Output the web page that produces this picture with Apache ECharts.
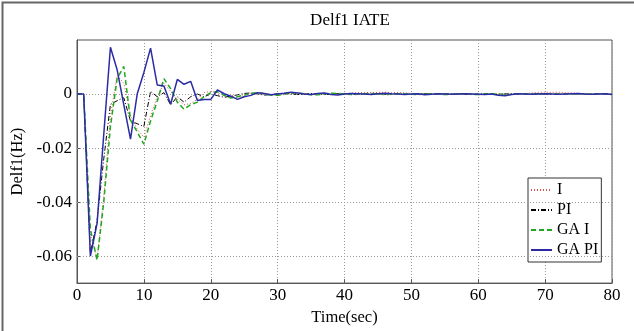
<!DOCTYPE html>
<html><head><meta charset="utf-8">
<script src="https://cdn.jsdelivr.net/npm/echarts@6/dist/echarts.min.js"></script>
<style>html,body{margin:0;padding:0;background:#fff}#c{width:634px;height:331px}</style>
</head><body><div id="c"></div>
<script>
var time = [];
for (var i = 0; i <= 80; i++) time.push(i);

var seriesI = [0,0,-0.052,-0.061,-0.038,-0.008,0.0068,0.004,-0.008,-0.013,
 -0.016,-0.008,-0.001,0.004,0.001,-0.002,-0.004,-0.0035,-0.002,0.0005,
 0.001,0.0005,-0.0005,-0.001,-0.0012,-0.0006,0.0002,0.0004,0.0001,-0.0003,
 -0.0004,-0.0001,0.0002,0.0003,0.0001,-0.0002,-0.0002,0.0001,0.0003,0.0002,
 0.0001,0.0003,0.0005,0.0006,0.0005,0.0006,0.0007,0.0005,0.0006,0.0004,
 0.0002,0.0001,-0.0001,0.0000,0.0002,0.0001,-0.0001,0.0000,0.0001,0.0000,
 -0.0001,0.0000,0.0001,0.0002,0.0001,0.0000,0.0001,0.0002,0.0004,0.0006,
 0.0007,0.0006,0.0007,0.0005,0.0004,0.0002,0.0001,0.0000,0.0001,0.0000,-0.0001];

var seriesPI = [0,0,-0.059,-0.047,-0.024,-0.0038,-0.0025,-0.0014,-0.010,-0.011,
 -0.012,0.001,-0.001,0.0005,-0.004,-0.001,-0.003,-0.001,0.000,-0.001,
 0.000,-0.0006,-0.0012,-0.0008,-0.0003,0.0002,0.0004,0.0000,-0.0004,-0.0002,
 0.0001,0.0003,0.0000,-0.0002,-0.0001,0.0002,0.0001,-0.0002,-0.0001,0.0001,
 0.0002,0.0000,-0.0001,0.0000,0.0001,0.0000,-0.0001,0.0000,0.0001,0.0000,
 -0.0001,0.0000,0.0001,0.0000,-0.0001,0.0000,0.0001,0.0000,-0.0001,-0.0002,
 0.0000,0.0001,-0.0001,-0.0002,0.0000,0.0001,0.0000,-0.0001,0.0000,0.0001,
 0.0000,-0.0002,-0.0001,0.0000,0.0001,0.0000,-0.0001,0.0000,0.0001,0.0000,-0.0001];

var seriesGAI = [0,0,-0.050,-0.0615,-0.040,-0.012,0.0057,0.0102,-0.0097,-0.014,
 -0.0186,-0.010,-0.0026,0.0057,0.002,-0.003,-0.0056,-0.004,-0.003,-0.001,
 0.0005,0.0008,-0.0005,-0.0015,-0.001,-0.0004,0.0003,0.0005,0.0001,-0.0004,
 -0.0005,-0.0001,0.0003,0.0004,0.0001,-0.0003,-0.0003,0.0000,0.0003,0.0002,
 0.0000,-0.0002,-0.0001,0.0001,0.0002,0.0000,-0.0002,-0.0001,0.0001,0.0001,
 -0.0001,-0.0002,0.0000,0.0001,0.0000,-0.0002,-0.0001,0.0001,0.0001,-0.0001,
 -0.0002,0.0000,0.0001,0.0000,-0.0002,-0.0001,0.0001,0.0001,0.0000,-0.0001,
 0.0000,0.0001,0.0000,-0.0001,0.0000,0.0001,0.0000,-0.0001,0.0000,0.0001,0.0000];

var seriesGAPI = [0,0,-0.060,-0.048,-0.015,0.0173,0.009,-0.004,-0.0167,0.000,
 0.008,0.017,0.0033,0.003,-0.0038,0.0054,0.0036,0.0047,-0.0024,-0.002,
 -0.002,0.0015,0.0001,-0.0008,-0.002,-0.001,-0.0005,0.0005,0.0002,-0.0003,
 0.0000,0.0003,0.0007,0.0004,0.0000,-0.0002,0.0002,0.0004,-0.0002,-0.0004,
 0.0000,0.0002,0.0001,0.0000,-0.0002,0.0001,0.0003,0.0001,0.0000,-0.0002,
 0.0000,0.0001,-0.0003,-0.0001,0.0001,0.0000,-0.0001,0.0000,0.0001,0.0000,
 -0.0001,-0.0002,0.0000,-0.0005,-0.0006,-0.0002,0.0001,0.0000,-0.0001,0.0000,
 0.0001,0.0000,-0.0001,0.0000,0.0001,0.0002,0.0000,-0.0001,0.0000,0.0001,-0.0002];

var seriesNames = ['I', 'PI', 'GA I', 'GA PI'];
var yTicks = [-0.06, -0.04, -0.02, 0];

function pairs(arr) { return arr.map(function (v, i) { return [time[i], v]; }); }

var serif = 'Liberation Serif';
var chart = echarts.init(document.getElementById('c'), null, { renderer: 'canvas' });
chart.setOption({
  animation: false,
  backgroundColor: '#fff',
  title: {
    text: 'Delf1 IATE', left: 345, top: 7, textAlign: 'center',
    textStyle: { fontFamily: serif, fontSize: 17, fontWeight: 'normal', color: '#000' }
  },
  graphic: [{
    type: 'rect', left: 0, top: 0, silent: true,
    shape: { x: 0, y: 0, width: 633, height: 330 },
    style: { fill: 'none', stroke: '#666', lineWidth: 2 }
  }],
  grid: { left: 77, right: 22, top: 40, bottom: 38, show: true, borderColor: '#555', borderWidth: 1, backgroundColor: 'transparent' },
  legend: {
    orient: 'vertical', left: 528, top: 178,
    backgroundColor: '#fff', borderColor: '#333', borderWidth: 1,
    padding: [4, 3, 4, 2], itemGap: 4, itemWidth: 21, itemHeight: 17,
    itemStyle: { opacity: 0 },
    textStyle: { fontFamily: serif, fontSize: 16, color: '#000' },
    data: seriesNames
  },
  xAxis: {
    type: 'value', min: 0, max: 80, interval: 10,
    name: 'Time(sec)', nameLocation: 'middle', nameGap: 23,
    nameTextStyle: { fontFamily: serif, fontSize: 16.5, color: '#000' },
    axisLine: { onZero: false, lineStyle: { color: '#555' } },
    axisTick: { inside: true, length: 4, lineStyle: { color: '#555' } },
    axisLabel: { fontFamily: serif, fontSize: 17, color: '#000', margin: 4 },
    splitLine: { show: true, lineStyle: { color: '#999', type: [1, 2], width: 1 } }
  },
  yAxis: {
    type: 'value', min: -0.07, max: 0.02, interval: 0.01,
    name: 'Delf1(Hz)', nameLocation: 'middle', nameGap: 49, nameRotate: 90,
    nameTextStyle: { fontFamily: serif, fontSize: 16.5, color: '#000' },
    axisLine: { show: true, lineStyle: { color: '#555' } },
    axisTick: { show: true, inside: true, length: 4, customValues: yTicks, lineStyle: { color: '#555' } },
    axisLabel: { fontFamily: serif, fontSize: 17, color: '#000', margin: 5, customValues: yTicks,
      formatter: function (v) { return Math.abs(v) < 1e-9 ? '0' : v.toFixed(2); } },
    splitLine: { show: false }
  },
  series: [
    { name: 'I', type: 'line', data: pairs(seriesI), symbol: 'none', z: 2,
      lineStyle: { color: '#d9534f', width: 1, type: [1, 2] }, itemStyle: { color: '#d9534f' },
      markLine: { silent: true, symbol: 'none', label: { show: false },
        lineStyle: { color: '#999', type: [1, 2], width: 1 },
        data: yTicks.map(function (v) { return { yAxis: v }; }) } },
    { name: 'PI', type: 'line', data: pairs(seriesPI), symbol: 'none', z: 3,
      lineStyle: { color: '#000', width: 1, type: [5, 2, 1, 2] }, itemStyle: { color: '#000' } },
    { name: 'GA I', type: 'line', data: pairs(seriesGAI), symbol: 'none', z: 4,
      lineStyle: { color: '#1fa81f', width: 1.5, type: [5, 3] }, itemStyle: { color: '#1fa81f' } },
    { name: 'GA PI', type: 'line', data: pairs(seriesGAPI), symbol: 'none', z: 5,
      lineStyle: { color: '#2b2ba6', width: 1.5 }, itemStyle: { color: '#2b2ba6' } }
  ]
});
</script></body></html>
